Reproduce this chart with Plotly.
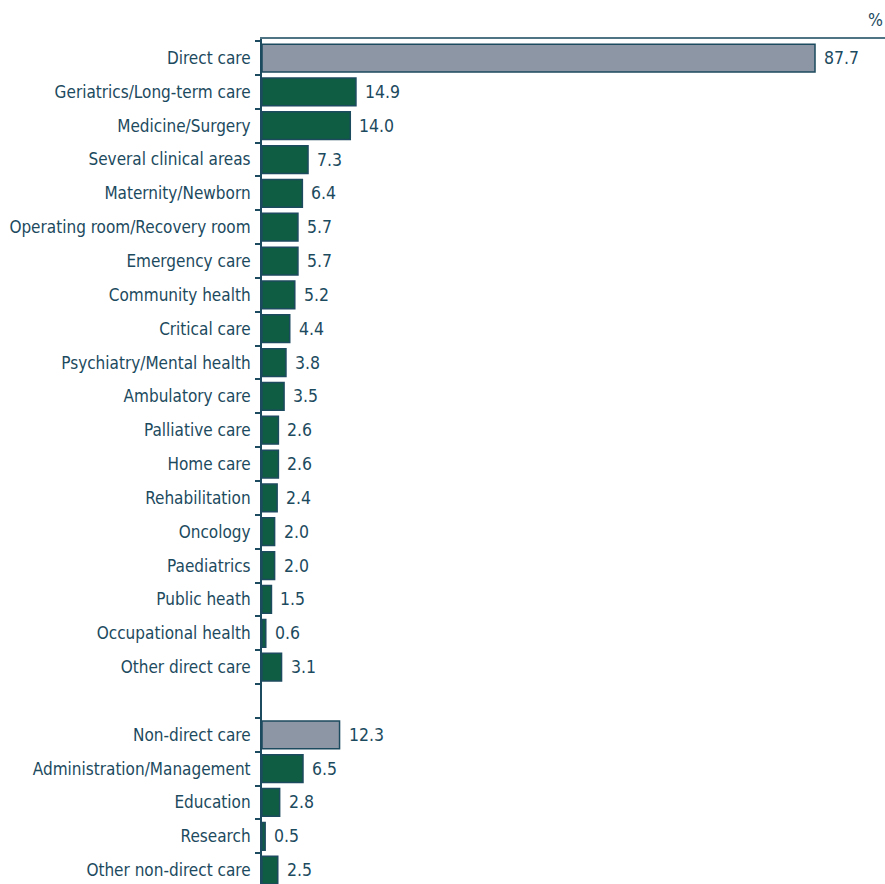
import plotly.graph_objects as go

# Share of nurses by area of responsibility (%)
categories = [
    "Direct care", "Geriatrics/Long-term care", "Medicine/Surgery",
    "Several clinical areas", "Maternity/Newborn", "Operating room/Recovery room",
    "Emergency care", "Community health", "Critical care",
    "Psychiatry/Mental health", "Ambulatory care", "Palliative care",
    "Home care", "Rehabilitation", "Oncology", "Paediatrics", "Public heath",
    "Occupational health", "Other direct care", " ",
    "Non-direct care", "Administration/Management", "Education", "Research",
    "Other non-direct care",
]
values = [
    87.7, 14.9, 14.0, 7.3, 6.4, 5.7, 5.7, 5.2, 4.4, 3.8, 3.5, 2.6, 2.6, 2.4,
    2.0, 2.0, 1.5, 0.6, 3.1, None,
    12.3, 6.5, 2.8, 0.5, 2.5,
]
totals = {"Direct care", "Non-direct care"}

TEXT = "#1c4a5e"
GREEN = "#0f5d42"
GREY = "#8d96a5"
FONT = "DejaVu Sans Condensed, Liberation Sans Narrow, sans-serif"

colors = [GREY if c in totals else GREEN for c in categories]

fig = go.Figure()
fig.add_trace(go.Bar(
    x=values,
    y=categories,
    orientation="h",
    marker=dict(color=colors, line=dict(color=TEXT, width=1.5)),
    width=0.82,
    hoverinfo="skip",
))

for c, v in zip(categories, values):
    if v is None:
        continue
    fig.add_annotation(
        x=v, y=c, xref="x", yref="y",
        text=f"{v:.1f}", showarrow=False,
        xanchor="left", xshift=7,
        font=dict(family=FONT, size=17.5, color=TEXT),
    )

fig.add_annotation(
    x=1, y=1.022, xref="paper", yref="paper",
    text="%", showarrow=False, xanchor="right", yanchor="middle",
    font=dict(family=FONT, size=17.5, color=TEXT),
)

fig.update_layout(
    width=885, height=884,
    margin=dict(l=262, r=0, t=39, b=0),
    paper_bgcolor="white", plot_bgcolor="white",
    showlegend=False,
    font=dict(family=FONT, size=17, color=TEXT),
    xaxis=dict(
        range=[0, 98.8], side="top", showline=True, linecolor="#4f7585",
        linewidth=1.5, showticklabels=False, ticks="", showgrid=False,
        zeroline=False, fixedrange=True, automargin=False,
    ),
    yaxis=dict(
        type="category", categoryorder="array", categoryarray=categories,
        range=[24.41, -0.562], showline=True, linecolor=TEXT, linewidth=2,
        ticks="outside", tickson="boundaries", ticklen=5, tickwidth=1.5,
        tickcolor=TEXT, showgrid=False, zeroline=False, automargin=False,
        ticklabelstandoff=6,
        tickfont=dict(family=FONT, size=17, color=TEXT),
    ),
)

fig.write_html("out.html")
